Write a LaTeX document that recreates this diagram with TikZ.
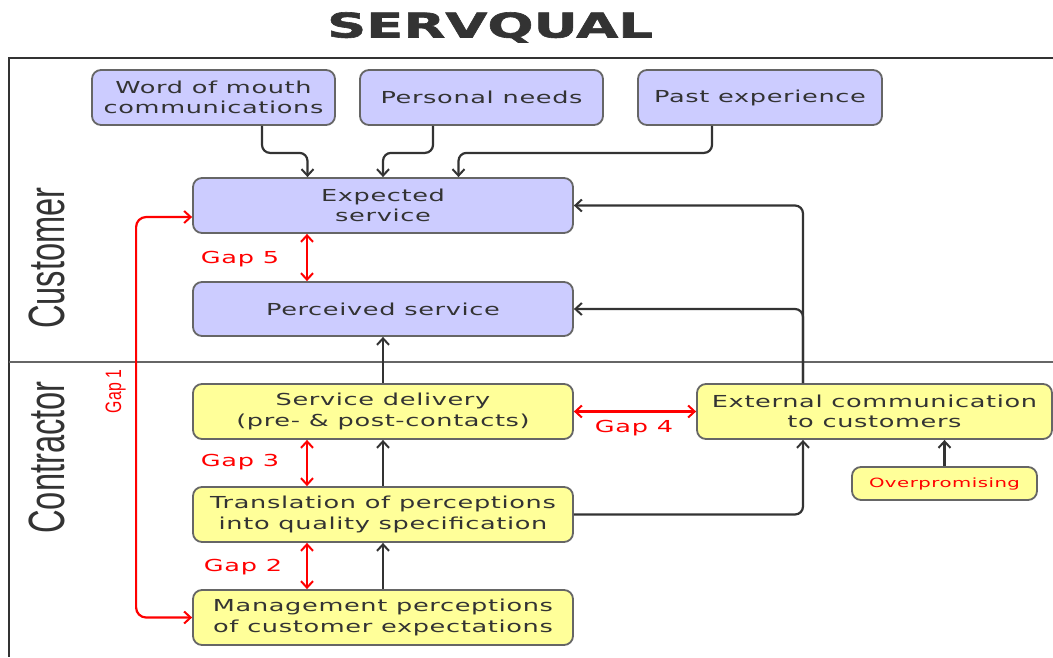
\documentclass[tikz,border=0pt]{standalone}
\usepackage{fontspec}
\usetikzlibrary{arrows.meta,calc}
\newfontfamily\boxfont{DejaVu Sans}[FakeStretch=1.55, LetterSpace=4]
\newfontfamily\titlefont{DejaVu Sans}[FakeStretch=1.6, FakeBold=1.8]
\newfontfamily\sidefont{Liberation Sans}[FakeStretch=0.64]
\newfontfamily\gapfont{Liberation Sans}[FakeStretch=0.71]
\definecolor{bluefill}{HTML}{CCCCFF}
\definecolor{yelfill}{HTML}{FFFF99}
\definecolor{boxline}{HTML}{666666}
\definecolor{txtc}{HTML}{333333}
\definecolor{arrc}{HTML}{333333}
\definecolor{gapred}{HTML}{FF0000}
\tikzset{
  box/.style={draw=boxline, line width=1.8pt, rounded corners=9pt, text=txtc,
    font=\boxfont\fontsize{16.5}{20.5}\selectfont, align=center, inner sep=0pt},
  bbox/.style={box, fill=bluefill},
  ybox/.style={box, fill=yelfill},
  tipb/.tip={Straight Barb[length=6.5pt,width=12pt,line width=2pt]},
  arr/.style={draw=arrc, line width=2.2pt, -tipb},
  gaparr/.style={draw=gapred, line width=2.2pt, tipb-tipb},
  gaplbl/.style={text=gapred, font=\boxfont\fontsize{16.5}{20}\selectfont, inner sep=0pt},
  sidelbl/.style={text=txtc, rotate=90, anchor=base, inner sep=0pt}
}
\begin{document}
\begin{tikzpicture}[x=1pt,y=-1pt]
\useasboundingbox (0,0) rectangle (1053,657);
\fill[white] (0,0) rectangle (1053,657);
% title
\node[anchor=base, text=txtc, font=\titlefont\bfseries\fontsize{34}{40}\selectfont, inner sep=0pt] (title) at (490,37.5) {SERVQUAL};
% frame
\coordinate (ftr) at (1053,58);
\coordinate (ftl) at (9,58);
\coordinate (fbl) at (9,657);
\coordinate (sl) at (9,362);
\coordinate (sr) at (1053,362);
\draw[txtc, line width=1.6pt] (ftr) -- (ftl) -- (fbl);
\draw[boxline, line width=1.6pt] (sl) -- (sr);
% side labels
\node[sidelbl, font=\sidefont\fontsize{51}{56}\selectfont] (cust) at (64,258) {Customer};
\node[sidelbl, font=\sidefont\fontsize{51}{56}\selectfont] (contr) at (64,457.5) {Contractor};
\node[sidelbl, text=gapred, font=\gapfont\fontsize{22.3}{26}\selectfont] (gap1) at (121,391.5) {Gap 1};
% boxes
\node[bbox, minimum width=243pt, minimum height=55pt] (wom) at (213.5,97.5) {Word of mouth\\communications};
\node[bbox, minimum width=243pt, minimum height=55pt] (pn) at (481.5,97.5) {Personal needs};
\node[bbox, minimum width=244pt, minimum height=55pt] (pe) at (760,97.5) {Past experience};
\node[bbox, minimum width=380pt, minimum height=55pt] (exp) at (383,205.5) {Expected\\service};
\node[bbox, minimum width=380pt, minimum height=54pt] (per) at (383,309) {Perceived service};
\node[ybox, minimum width=380pt, minimum height=55pt] (sd) at (383,411.5) {Service delivery\\(pre- \& post-contacts)};
\node[ybox, minimum width=380pt, minimum height=55pt] (tr) at (383,514.5) {Translation of perceptions\\into quality specification};
\node[ybox, minimum width=380pt, minimum height=55pt] (mg) at (383,617.5) {Management perceptions\\of customer expectations};
\node[ybox, minimum width=355pt, minimum height=55pt] (ext) at (874.5,411.5) {External communication\\to customers};
\node[ybox, minimum width=185pt, minimum height=33pt, text=gapred, font=\boxfont\fontsize{12.7}{16}\selectfont] (ov) at (944.5,483.5) {Overpromising};
% black connectors
\draw[arr, rounded corners=8pt] ([xshift=48.5pt]wom.south) -- ++(0,27) -| ([xshift=-75.5pt]exp.north);
\draw[arr, rounded corners=8pt] ([xshift=-48.5pt]pn.south) -- ++(0,27) -| (exp.north);
\draw[arr, rounded corners=8pt] ([xshift=-48pt]pe.south) -- ++(0,27) -| ([xshift=75.5pt]exp.north);
\draw[arr, rounded corners=8pt] ([xshift=-71.5pt]ext.north) |- (exp.east);
\draw[arr, rounded corners=8pt] ([xshift=-71.5pt]ext.north) |- (per.east);
\draw[arr] (sd.north) -- (per.south);
\draw[arr] (tr.north) -- (sd.south);
\draw[arr] (mg.north) -- (tr.south);
\draw[arr, rounded corners=8pt] (tr.east) -| ([xshift=-71.5pt]ext.south);
\draw[arr] (ov.north) -- (ov.north |- ext.south);
% gaps
\draw[gaparr] ([xshift=-76pt]exp.south) -- ([xshift=-76pt]per.north);
\draw[gaparr] ([xshift=-76pt]sd.south) -- ([xshift=-76pt]tr.north);
\draw[gaparr] ([xshift=-76pt]tr.south) -- ([xshift=-76pt]mg.north);
\draw[gaparr] (sd.east) -- (ext.west);
\draw[gaparr, rounded corners=10pt] ([yshift=-11.5pt]exp.west) -- ++(-56,0) |- (mg.west);
\node[gaplbl] (g5) at (240,259) {Gap 5};
\node[gaplbl] (g3) at (240,462) {Gap 3};
\node[gaplbl] (g2) at (243,567) {Gap 2};
\node[gaplbl] (g4) at (634,428) {Gap 4};
\end{tikzpicture}
\end{document}
